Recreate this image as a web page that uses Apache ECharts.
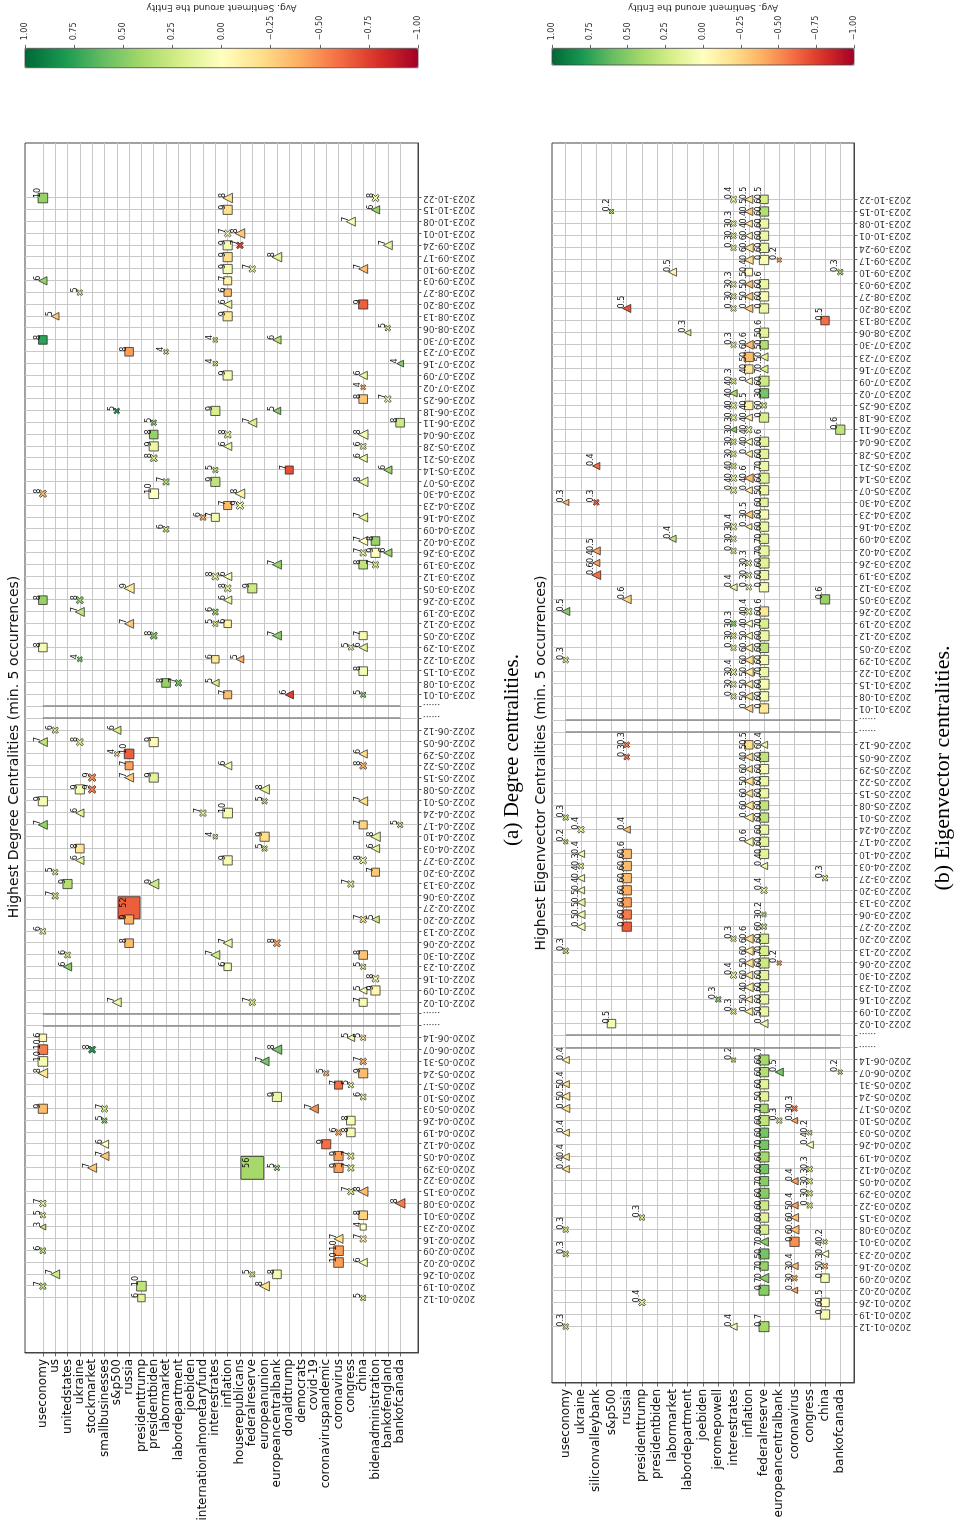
<!DOCTYPE html>
<html>
<head>
<meta charset="utf-8">
<script src="https://cdn.jsdelivr.net/npm/echarts@6/dist/echarts.min.js"></script>
<style>
  html, body { margin: 0; padding: 0; background: #fff; width: 960px; height: 1535px; overflow: hidden; }
  /* The figure is laid out landscape and turned a quarter turn counter-clockwise onto the page. */
  #chart { position: absolute; left: 0; top: 0; width: 1535px; height: 960px;
           transform-origin: 0 0; transform: translateY(1535px) rotate(-90deg); }
</style>
</head>
<body>
<div id="chart"></div>
<script>
// ---- tick labels -------------------------------------------------------
const weeks2020 = ['2020-01-12','2020-01-19','2020-01-26','2020-02-02','2020-02-09','2020-02-16','2020-02-23','2020-03-01','2020-03-08','2020-03-15','2020-03-22','2020-03-29','2020-04-05','2020-04-12','2020-04-19','2020-04-26','2020-05-03','2020-05-10','2020-05-17','2020-05-24','2020-05-31','2020-06-07','2020-06-14'];
const weeks2022 = ['2022-01-02','2022-01-09','2022-01-16','2022-01-23','2022-01-30','2022-02-06','2022-02-13','2022-02-20','2022-02-27','2022-03-06','2022-03-13','2022-03-20','2022-03-27','2022-04-03','2022-04-10','2022-04-17','2022-04-24','2022-05-01','2022-05-08','2022-05-15','2022-05-22','2022-05-29','2022-06-05','2022-06-12'];
const weeks2023 = ['2023-01-01','2023-01-08','2023-01-15','2023-01-22','2023-01-29','2023-02-05','2023-02-12','2023-02-19','2023-02-26','2023-03-05','2023-03-12','2023-03-19','2023-03-26','2023-04-02','2023-04-09','2023-04-16','2023-04-23','2023-04-30','2023-05-07','2023-05-14','2023-05-21','2023-05-28','2023-06-04','2023-06-11','2023-06-18','2023-06-25','2023-07-02','2023-07-09','2023-07-16','2023-07-23','2023-07-30','2023-08-06','2023-08-13','2023-08-20','2023-08-27','2023-09-03','2023-09-10','2023-09-17','2023-09-24','2023-10-01','2023-10-08','2023-10-15','2023-10-22'];
const GAP = '......';
const dateTicks = [...weeks2020, GAP, GAP, ...weeks2022, GAP, GAP, ...weeks2023];

const entitiesDegree = ['useconomy','us','unitedstates','ukraine','stockmarket','smallbusinesses','s&p500','russia','presidenttrump','presidentbiden','labormarket','labordepartment','joebiden','internationalmonetaryfund','interestrates','inflation','houserepublicans','federalreserve','europeanunion','europeancentralbank','donaldtrump','democrats','covid-19','coronaviruspandemic','coronavirus','congress','china','bidenadministration','bankofengland','bankofcanada'];
const entitiesEigen = ['useconomy','ukraine','siliconvalleybank','s&p500','russia','presidenttrump','presidentbiden','labormarket','labordepartment','joebiden','jeromepowell','interestrates','inflation','federalreserve','europeancentralbank','coronavirus','congress','china','bankofcanada'];

// ---- degree centralities: [week, entity, degree, avg. sentiment] -------
const degreeSquares = [
  ['2023-10-22','useconomy',10,0.45],['2023-10-15','inflation',9,-0.2],['2023-09-24','inflation',9,0.05],
  ['2023-09-17','inflation',9,-0.2],['2023-09-10','inflation',9,0.05],['2023-09-03','inflation',7,-0.1],
  ['2023-08-27','inflation',6,-0.35],['2023-08-20','china',9,-0.65],['2023-08-13','inflation',9,-0.15],
  ['2023-07-30','useconomy',8,0.75],['2023-07-23','russia',8,-0.45],['2023-07-09','inflation',9,0.05],
  ['2023-06-25','china',8,-0.3],['2023-06-18','interestrates',9,0.2],['2023-06-11','bankofcanada',8,0.25],
  ['2023-06-04','presidentbiden',8,0.45],['2023-05-28','presidentbiden',9,0.1],['2023-05-14','donaldtrump',7,-0.7],
  ['2023-05-07','interestrates',9,0.3],['2023-04-30','presidentbiden',10,0.0],['2023-04-23','inflation',7,-0.35],
  ['2023-04-16','interestrates',7,0.05],['2023-04-02','bidenadministration',8,0.45],['2023-03-26','bidenadministration',9,0.0],
  ['2023-03-19','china',8,0.3],['2023-03-05','federalreserve',9,0.25],['2023-02-26','useconomy',8,0.45],
  ['2023-02-12','inflation',6,-0.1],['2023-02-05','china',7,0.05],['2023-01-29','useconomy',8,0.05],
  ['2023-01-22','interestrates',6,-0.15],['2023-01-15','china',8,0.05],['2023-01-08','labormarket',8,0.45],
  ['2023-01-01','inflation',7,-0.35],
  ['2022-06-05','presidentbiden',9,-0.05],['2022-05-29','russia',10,-0.65],['2022-05-22','russia',7,-0.45],
  ['2022-05-15','presidentbiden',9,0.15],['2022-05-08','ukraine',9,0.05],['2022-05-01','useconomy',9,0.05],
  ['2022-04-24','inflation',10,0.05],['2022-04-17','china',7,-0.25],['2022-04-10','europeanunion',9,-0.2],
  ['2022-04-03','ukraine',8,-0.15],['2022-03-27','inflation',9,0.05],['2022-03-20','bidenadministration',7,-0.3],
  ['2022-03-13','unitedstates',9,0.35],['2022-02-27','russia',52,-0.65],['2022-02-20','russia',9,-0.4],
  ['2022-02-06','russia',8,-0.35],['2022-01-30','china',8,-0.3],['2022-01-23','inflation',6,0.05],
  ['2022-01-09','bidenadministration',9,-0.05],['2022-01-02','china',7,0.05],
  ['2020-06-14','useconomy',6,-0.05],['2020-06-07','useconomy',10,-0.55],['2020-05-31','useconomy',10,0.05],
  ['2020-05-24','china',9,-0.35],['2020-05-17','coronavirus',7,-0.6],['2020-05-10','europeancentralbank',9,0.1],
  ['2020-05-03','useconomy',9,-0.35],['2020-04-26','congress',8,0.05],['2020-04-19','congress',8,0.05],
  ['2020-04-12','coronaviruspandemic',9,-0.6],['2020-04-05','coronavirus',9,-0.45],['2020-03-29','coronavirus',9,-0.45],
  ['2020-03-29','federalreserve',56,0.4],['2020-03-01','china',8,-0.25],['2020-02-23','china',4,0.0],
  ['2020-02-09','coronavirus',10,-0.45],['2020-02-02','coronavirus',10,-0.45],['2020-01-26','europeancentralbank',8,0.05],
  ['2020-01-19','presidenttrump',10,0.3],['2020-01-12','presidenttrump',6,0.15]
];
const degreeTriangles = [
  ['2023-10-22','inflation',8,-0.2],['2023-10-15','bidenadministration',6,0.45],['2023-10-08','congress',7,0.05],
  ['2023-10-01','houserepublicans',8,-0.3],['2023-09-24','bankofengland',7,0.15],['2023-09-17','europeancentralbank',8,0.15],
  ['2023-09-10','china',7,-0.35],['2023-09-03','useconomy',6,0.45],['2023-08-20','inflation',6,0.1],
  ['2023-08-13','us',5,-0.3],['2023-07-30','europeancentralbank',6,0.35],['2023-07-16','bankofcanada',4,0.5],
  ['2023-07-09','china',6,0.1],['2023-06-18','europeancentralbank',5,0.5],['2023-06-11','federalreserve',7,0.2],
  ['2023-06-04','china',8,0.05],['2023-05-28','inflation',6,0.1],['2023-05-21','china',6,0.1],
  ['2023-05-14','bankofengland',6,0.45],['2023-05-07','china',8,0.1],['2023-04-30','houserepublicans',8,-0.1],
  ['2023-04-16','china',7,0.15],['2023-04-02','china',7,0.0],['2023-03-26','bankofengland',6,0.45],
  ['2023-03-19','europeancentralbank',7,0.45],['2023-03-12','inflation',6,0.05],['2023-03-05','russia',9,-0.15],
  ['2023-02-26','inflation',6,0.1],['2023-02-19','ukraine',7,0.3],['2023-02-12','russia',7,-0.3],
  ['2023-02-05','europeancentralbank',7,0.5],['2023-01-29','china',6,0.15],['2023-01-22','houserepublicans',5,-0.4],
  ['2023-01-08','interestrates',5,0.2],['2023-01-01','donaldtrump',6,-0.75],
  ['2022-06-12','s&p500',6,0.2],['2022-06-05','useconomy',7,0.3],['2022-05-29','china',6,-0.2],
  ['2022-05-22','inflation',6,0.05],['2022-05-15','russia',7,-0.3],['2022-05-08','europeanunion',8,0.15],
  ['2022-05-01','china',7,-0.2],['2022-04-24','ukraine',6,0.15],['2022-04-17','useconomy',7,0.45],
  ['2022-04-10','bidenadministration',8,0.15],['2022-04-03','bidenadministration',6,0.15],['2022-03-27','ukraine',6,0.15],
  ['2022-03-13','presidentbiden',9,0.25],['2022-02-20','bidenadministration',5,0.25],['2022-02-06','inflation',7,0.1],
  ['2022-01-30','interestrates',7,0.25],['2022-01-23','unitedstates',6,0.5],['2022-01-09','china',5,0.05],
  ['2022-01-02','s&p500',7,0.1],
  ['2020-06-14','congress',5,0.1],['2020-06-07','europeancentralbank',8,0.55],['2020-05-31','europeanunion',7,0.55],
  ['2020-05-24','useconomy',8,-0.15],['2020-05-03','covid-19',7,-0.5],['2020-04-12','smallbusinesses',6,0.0],
  ['2020-04-05','smallbusinesses',7,-0.3],['2020-03-29','stockmarket',7,-0.3],['2020-03-15','china',8,-0.35],
  ['2020-03-08','bankofcanada',8,-0.55],['2020-02-23','useconomy',3,0.3],['2020-02-16','coronavirus',7,-0.2],
  ['2020-02-02','china',6,0.05],['2020-01-26','us',7,0.25],['2020-01-19','europeanunion',8,-0.2]
];
const degreeCrosses = [
  ['2023-10-22','bidenadministration',8,0.1],['2023-10-01','inflation',7,0.05],['2023-09-24','houserepublicans',7,-0.75],
  ['2023-09-10','federalreserve',7,0.1],['2023-08-27','ukraine',5,0.2],['2023-08-06','bankofengland',5,0.25],
  ['2023-07-30','interestrates',4,0.2],['2023-07-23','labormarket',4,0.3],['2023-07-16','interestrates',4,0.2],
  ['2023-07-02','china',4,-0.4],['2023-06-25','bankofengland',7,0.1],['2023-06-18','s&p500',5,0.8],
  ['2023-06-11','presidentbiden',5,0.5],['2023-06-04','inflation',8,0.15],['2023-05-28','china',6,0.15],
  ['2023-05-21','presidentbiden',8,0.25],['2023-05-14','interestrates',5,0.3],['2023-05-07','labormarket',7,0.35],
  ['2023-04-30','useconomy',8,-0.35],['2023-04-23','houserepublicans',9,0.1],['2023-04-16','internationalmonetaryfund',6,-0.4],
  ['2023-04-09','labormarket',6,0.3],['2023-03-26','china',7,0.15],['2023-03-19','bidenadministration',7,0.2],
  ['2023-03-12','interestrates',8,0.15],['2023-03-05','inflation',8,0.15],['2023-02-26','ukraine',8,0.45],
  ['2023-02-19','interestrates',6,0.45],['2023-02-12','interestrates',5,0.2],['2023-02-05','presidentbiden',8,0.5],
  ['2023-01-29','congress',5,0.1],['2023-01-22','ukraine',4,0.5],['2023-01-08','labordepartment',7,0.55],
  ['2023-01-01','china',5,0.5],
  ['2022-06-12','us',6,0.2],['2022-06-05','ukraine',8,0.2],['2022-05-29','s&p500',4,-0.2],
  ['2022-05-22','china',8,-0.4],['2022-05-15','stockmarket',9,-0.5],['2022-05-08','stockmarket',9,-0.55],
  ['2022-05-01','europeanunion',5,0.3],['2022-04-24','internationalmonetaryfund',7,0.15],['2022-04-17','bankofcanada',5,0.3],
  ['2022-04-10','interestrates',4,0.2],['2022-04-03','europeanunion',5,0.3],['2022-03-27','china',8,0.1],
  ['2022-03-20','us',5,0.2],['2022-03-13','congress',7,0.2],['2022-03-06','us',7,0.3],
  ['2022-02-20','china',7,-0.2],['2022-02-13','useconomy',6,0.15],['2022-02-06','europeancentralbank',8,-0.45],
  ['2022-01-30','unitedstates',6,0.2],['2022-01-23','china',5,0.2],['2022-01-16','bidenadministration',8,0.1],
  ['2022-01-02','federalreserve',7,0.2],
  ['2020-06-14','china',5,-0.15],['2020-06-07','stockmarket',8,0.8],['2020-05-31','china',7,-0.4],
  ['2020-05-24','coronaviruspandemic',5,-0.35],['2020-05-17','congress',5,0.15],['2020-05-10','china',6,0.15],
  ['2020-05-03','smallbusinesses',7,0.2],['2020-04-26','smallbusinesses',5,0.5],['2020-04-19','coronavirus',6,-0.4],
  ['2020-04-05','congress',7,0.2],['2020-03-29','congress',7,0.2],['2020-03-29','europeancentralbank',5,0.5],
  ['2020-03-15','congress',7,0.2],['2020-03-08','useconomy',7,0.15],['2020-03-01','useconomy',5,0.2],
  ['2020-02-16','china',7,-0.1],['2020-02-09','useconomy',6,0.3],['2020-01-26','federalreserve',5,0.2],
  ['2020-01-19','useconomy',7,0.3],['2020-01-12','china',5,0.2]
];

// ---- eigenvector centralities: [week, entity, centrality, avg. sentiment]
const eigenSquares = [
  ['2023-10-22','federalreserve',0.5,0.2],['2023-10-15','federalreserve',0.6,0.35],['2023-10-08','federalreserve',0.6,0.1],
  ['2023-10-01','federalreserve',0.6,0.1],['2023-09-24','federalreserve',0.6,0.1],['2023-09-17','federalreserve',0.6,0.05],
  ['2023-09-10','inflation',0.4,0.0],['2023-09-03','federalreserve',0.6,0.1],['2023-08-27','federalreserve',0.6,0.05],
  ['2023-08-20','federalreserve',0.6,0.1],['2023-08-13','china',0.5,-0.6],['2023-08-06','federalreserve',0.6,0.15],
  ['2023-07-30','federalreserve',0.5,0.35],['2023-07-23','inflation',0.6,-0.35],['2023-07-16','inflation',0.5,-0.15],
  ['2023-07-09','federalreserve',0.7,0.25],['2023-07-02','federalreserve',0.6,0.55],['2023-06-25','inflation',0.5,-0.1],
  ['2023-06-18','federalreserve',0.6,0.2],['2023-06-11','bankofcanada',0.6,0.3],['2023-06-04','federalreserve',0.6,0.15],
  ['2023-05-28','federalreserve',0.6,0.15],['2023-05-21','federalreserve',0.6,0.1],['2023-05-14','federalreserve',0.7,0.15],
  ['2023-05-07','federalreserve',0.6,0.1],['2023-04-30','federalreserve',0.5,0.15],['2023-04-23','federalreserve',0.6,0.05],
  ['2023-04-16','federalreserve',0.6,0.1],['2023-04-09','federalreserve',0.6,0.15],['2023-04-02','federalreserve',0.7,0.1],
  ['2023-03-26','federalreserve',0.7,0.15],['2023-03-19','federalreserve',0.6,0.1],['2023-03-12','federalreserve',0.6,0.05],
  ['2023-03-05','china',0.6,0.45],['2023-02-26','federalreserve',0.6,-0.15],['2023-02-19','federalreserve',0.6,0.2],
  ['2023-02-12','federalreserve',0.7,0.1],['2023-02-05','federalreserve',0.6,0.3],['2023-01-29','federalreserve',0.6,0.05],
  ['2023-01-22','federalreserve',0.6,0.1],['2023-01-15','federalreserve',0.7,0.05],['2023-01-08','federalreserve',0.6,0.05],
  ['2023-01-01','federalreserve',0.6,-0.15],
  ['2022-06-12','inflation',0.5,-0.2],['2022-06-05','federalreserve',0.6,0.3],['2022-05-29','federalreserve',0.6,0.05],
  ['2022-05-22','federalreserve',0.6,0.1],['2022-05-15','federalreserve',0.6,0.1],['2022-05-08','federalreserve',0.6,0.3],
  ['2022-05-01','federalreserve',0.6,0.3],['2022-04-24','federalreserve',0.6,0.1],['2022-04-17','federalreserve',0.6,0.15],
  ['2022-04-10','russia',0.6,-0.35],['2022-04-10','federalreserve',0.6,0.15],['2022-04-03','russia',0.6,-0.35],
  ['2022-03-27','russia',0.6,-0.35],['2022-03-20','russia',0.6,-0.4],['2022-03-13','russia',0.6,-0.45],
  ['2022-03-06','russia',0.6,-0.55],['2022-02-27','russia',0.6,-0.65],['2022-02-20','federalreserve',0.6,0.2],
  ['2022-02-13','federalreserve',0.6,0.2],['2022-02-06','federalreserve',0.7,0.25],['2022-01-30','federalreserve',0.6,0.15],
  ['2022-01-23','federalreserve',0.6,0.15],['2022-01-16','federalreserve',0.6,0.1],['2022-01-09','federalreserve',0.6,0.1],
  ['2022-01-02','s&p500',0.5,0.05],
  ['2020-06-14','federalreserve',0.7,0.4],['2020-06-07','federalreserve',0.6,0.35],['2020-05-31','federalreserve',0.6,0.15],
  ['2020-05-24','federalreserve',0.6,0.15],['2020-05-17','federalreserve',0.5,0.4],['2020-05-10','federalreserve',0.7,0.3],
  ['2020-05-03','federalreserve',0.6,0.55],['2020-04-26','federalreserve',0.6,0.55],['2020-04-19','federalreserve',0.7,0.4],
  ['2020-04-12','federalreserve',0.6,0.55],['2020-04-05','federalreserve',0.6,0.5],['2020-03-29','federalreserve',0.7,0.5],
  ['2020-03-22','federalreserve',0.6,0.25],['2020-03-15','federalreserve',0.6,0.15],['2020-03-08','federalreserve',0.6,0.2],
  ['2020-03-01','coronavirus',0.6,-0.5],['2020-02-23','federalreserve',0.7,0.55],['2020-02-16','federalreserve',0.5,0.45],
  ['2020-02-09','china',0.5,0.05],['2020-02-02','federalreserve',0.7,0.5],['2020-01-26','china',0.5,0.0],
  ['2020-01-19','china',0.6,0.05],['2020-01-12','federalreserve',0.7,0.4]
];
const eigenTriangles = [
  ['2023-10-22','inflation',0.5,-0.2],['2023-10-15','inflation',0.5,-0.3],['2023-10-08','inflation',0.4,-0.15],
  ['2023-10-01','inflation',0.4,-0.1],['2023-09-24','inflation',0.6,-0.15],['2023-09-17','inflation',0.6,-0.2],
  ['2023-09-10','labormarket',0.5,-0.1],['2023-09-03','inflation',0.5,-0.35],['2023-08-27','inflation',0.5,-0.3],
  ['2023-08-20','russia',0.5,-0.7],['2023-08-20','inflation',0.5,-0.3],['2023-08-06','labordepartment',0.3,0.2],
  ['2023-07-30','inflation',0.6,-0.35],['2023-07-23','federalreserve',0.5,0.15],['2023-07-16','federalreserve',0.5,0.2],
  ['2023-07-09','inflation',0.4,-0.05],['2023-07-02','interestrates',0.4,0.4],['2023-06-18','inflation',0.4,-0.1],
  ['2023-06-11','interestrates',0.3,0.5],['2023-06-04','inflation',0.4,-0.05],['2023-05-28','inflation',0.4,-0.1],
  ['2023-05-21','siliconvalleybank',0.4,-0.6],['2023-05-14','inflation',0.6,-0.35],['2023-05-07','inflation',0.4,-0.1],
  ['2023-04-30','useconomy',0.3,-0.35],['2023-04-23','inflation',0.5,-0.3],['2023-04-16','inflation',0.3,-0.1],
  ['2023-04-09','labormarket',0.4,0.3],['2023-04-02','siliconvalleybank',0.5,-0.45],['2023-03-26','siliconvalleybank',0.4,-0.45],
  ['2023-03-19','siliconvalleybank',0.6,-0.6],['2023-03-12','interestrates',0.4,0.1],['2023-03-05','russia',0.6,-0.25],
  ['2023-02-26','useconomy',0.5,0.5],['2023-02-19','inflation',0.4,0.0],['2023-02-12','inflation',0.4,-0.05],
  ['2023-02-05','inflation',0.5,-0.1],['2023-01-29','inflation',0.6,-0.2],['2023-01-22','inflation',0.6,-0.15],
  ['2023-01-15','inflation',0.5,-0.15],['2023-01-08','inflation',0.5,-0.2],['2023-01-01','inflation',0.5,-0.25],
  ['2022-06-12','federalreserve',0.4,0.1],['2022-06-05','inflation',0.5,-0.2],['2022-05-29','inflation',0.4,-0.15],
  ['2022-05-22','inflation',0.6,-0.2],['2022-05-15','inflation',0.5,-0.2],['2022-05-08','inflation',0.6,-0.15],
  ['2022-05-01','inflation',0.6,-0.1],['2022-04-24','russia',0.4,-0.35],['2022-04-17','inflation',0.6,-0.05],
  ['2022-04-10','ukraine',0.4,0.1],['2022-04-03','federalreserve',0.4,0.1],['2022-03-27','ukraine',0.4,0.05],
  ['2022-03-20','ukraine',0.4,0.1],['2022-03-13','ukraine',0.5,0.15],['2022-03-06','ukraine',0.5,0.1],
  ['2022-02-27','ukraine',0.5,0.05],['2022-02-20','inflation',0.6,-0.2],['2022-02-13','inflation',0.6,-0.15],
  ['2022-02-06','inflation',0.6,-0.2],['2022-01-30','inflation',0.5,-0.15],['2022-01-23','inflation',0.6,-0.1],
  ['2022-01-16','inflation',0.4,-0.1],['2022-01-09','inflation',0.5,-0.15],['2022-01-02','federalreserve',0.5,0.1],
  ['2020-06-14','useconomy',0.4,-0.1],['2020-06-07','europeancentralbank',0.5,0.55],['2020-05-31','useconomy',0.4,-0.2],
  ['2020-05-24','useconomy',0.5,-0.15],['2020-05-17','useconomy',0.5,-0.2],['2020-05-10','coronavirus',0.3,-0.45],
  ['2020-05-03','useconomy',0.4,-0.15],['2020-04-26','congress',0.4,0.05],['2020-04-19','useconomy',0.4,-0.15],
  ['2020-04-12','useconomy',0.4,-0.2],['2020-04-05','coronavirus',0.4,-0.45],['2020-03-22','coronavirus',0.4,-0.45],
  ['2020-03-15','coronavirus',0.5,-0.35],['2020-03-08','coronavirus',0.6,-0.35],['2020-03-01','federalreserve',0.6,0.5],
  ['2020-02-23','china',0.4,0.0],['2020-02-16','coronavirus',0.4,-0.35],['2020-02-09','federalreserve',0.7,0.5],
  ['2020-02-02','coronavirus',0.3,-0.45],['2020-01-12','interestrates',0.4,0.05]
];
const eigenCrosses = [
  ['2023-10-22','interestrates',0.4,0.1],['2023-10-15','s&p500',0.2,0.3],['2023-10-08','interestrates',0.3,0.1],
  ['2023-10-01','interestrates',0.3,0.15],['2023-09-24','interestrates',0.3,0.1],['2023-09-17','europeancentralbank',0.2,-0.4],
  ['2023-09-10','bankofcanada',0.3,0.4],['2023-09-03','interestrates',0.3,0.1],['2023-08-27','interestrates',0.3,0.15],
  ['2023-08-20','interestrates',0.3,0.1],['2023-07-30','interestrates',0.3,0.1],['2023-07-09','interestrates',0.3,0.15],
  ['2023-06-25','interestrates',0.4,0.1],['2023-06-25','federalreserve',0.3,0.2],['2023-06-18','interestrates',0.4,0.1],
  ['2023-06-11','inflation',0.4,0.1],['2023-06-04','interestrates',0.3,0.15],['2023-05-28','interestrates',0.3,0.1],
  ['2023-05-21','interestrates',0.3,0.15],['2023-05-14','interestrates',0.4,0.1],['2023-05-07','interestrates',0.4,0.15],
  ['2023-04-30','siliconvalleybank',0.3,-0.65],['2023-04-16','interestrates',0.4,0.1],['2023-04-09','interestrates',0.3,0.1],
  ['2023-04-02','interestrates',0.3,0.15],['2023-03-26','inflation',0.3,0.1],['2023-03-19','inflation',0.3,0.15],
  ['2023-03-12','inflation',0.3,0.1],['2023-02-26','inflation',0.4,0.15],['2023-02-19','interestrates',0.3,0.45],
  ['2023-02-12','interestrates',0.3,0.15],['2023-02-05','interestrates',0.3,0.1],['2023-01-29','useconomy',0.3,0.2],
  ['2023-01-22','interestrates',0.4,0.15],['2023-01-15','interestrates',0.3,0.1],['2023-01-08','interestrates',0.3,0.15],
  ['2022-06-12','russia',0.3,-0.55],['2022-06-05','russia',0.3,-0.6],['2022-05-01','useconomy',0.3,0.25],
  ['2022-04-24','ukraine',0.4,0.15],['2022-04-17','useconomy',0.2,0.3],['2022-04-03','ukraine',0.3,0.15],
  ['2022-03-27','china',0.3,0.2],['2022-03-20','federalreserve',0.4,0.15],['2022-03-06','federalreserve',0.2,0.3],
  ['2022-02-27','federalreserve',0.3,0.25],['2022-02-20','interestrates',0.3,0.15],['2022-02-13','useconomy',0.3,0.3],
  ['2022-02-06','europeancentralbank',0.2,-0.45],['2022-01-30','interestrates',0.4,0.1],['2022-01-16','jeromepowell',0.3,0.5],
  ['2022-01-09','interestrates',0.3,0.15],
  ['2020-06-14','interestrates',0.2,0.25],['2020-06-07','bankofcanada',0.2,0.3],['2020-05-17','coronavirus',0.3,-0.55],
  ['2020-05-10','europeancentralbank',0.3,0.2],['2020-05-03','congress',0.2,0.2],['2020-04-12','congress',0.3,0.2],
  ['2020-04-05','congress',0.3,0.15],['2020-03-29','congress',0.3,0.2],['2020-03-22','congress',0.3,0.2],
  ['2020-03-15','presidenttrump',0.3,0.2],['2020-03-08','useconomy',0.3,0.2],['2020-03-01','china',0.2,0.2],
  ['2020-02-23','useconomy',0.3,0.3],['2020-02-16','china',0.3,-0.35],['2020-02-09','coronavirus',0.3,-0.4],
  ['2020-01-26','presidenttrump',0.4,0.15],['2020-01-12','useconomy',0.3,0.25]
];

// ---- drawing -----------------------------------------------------------
const FONT = 'DejaVu Sans';
const RDYLGN = ['#a50026','#d73027','#f46d43','#fdae61','#fee08b','#ffffbf','#d9ef8b','#a6d96a','#66bd63','#1a9850','#006837'];
const CROSS = 'path://M0,2L2,0L5,3L8,0L10,2L7,5L10,8L8,10L5,7L2,10L0,8L3,5Z';
const FRAME = '#444';

const tickIdx = dateTicks.map((_, i) => i);
const gapIdx = tickIdx.filter(i => dateTicks[i] === GAP);
const datePad = (dateTicks.length - 1) * 0.05;

function toPoints(rows, names) {
  return rows.map(r => [dateTicks.indexOf(r[0]), names.indexOf(r[1]), r[2], r[3]]);
}

function dateAxis(gridIndex) {
  return {
    type: 'value', gridIndex, min: -datePad, max: dateTicks.length - 1 + datePad,
    axisLine: { show: true, onZero: false, lineStyle: { color: FRAME, width: 1 } },
    axisTick: { show: true, customValues: tickIdx, length: 3.5, lineStyle: { color: FRAME, width: 0.8 } },
    axisLabel: { customValues: tickIdx, rotate: 90, fontSize: 9, color: '#333', margin: 5,
                 fontFamily: FONT, formatter: v => dateTicks[v] },
    splitLine: { show: true, lineStyle: { color: '#c8c8c8', width: 1 } }
  };
}

function entityAxis(gridIndex, names) {
  const idx = names.map((_, i) => i);
  const pad = (names.length - 1) * 0.05;
  return {
    type: 'value', gridIndex, inverse: true, min: -pad, max: names.length - 1 + pad,
    axisLine: { show: true, onZero: false, lineStyle: { color: FRAME, width: 1 } },
    axisTick: { show: true, customValues: idx, length: 3.5, lineStyle: { color: FRAME, width: 0.8 } },
    axisLabel: { customValues: idx, fontSize: 12, color: '#111', margin: 6, fontFamily: FONT,
                 formatter: v => names[v] },
    splitLine: { show: true, lineStyle: { color: '#c8c8c8', width: 1 } }
  };
}

function colorbarAxis(gridIndex) {
  return {
    type: 'value', gridIndex, min: -1, max: 1, interval: 0.25, position: 'right',
    axisLine: { show: false, onZero: false },
    axisTick: { show: true, length: 3.5, lineStyle: { color: FRAME, width: 0.8 } },
    axisLabel: { fontSize: 8, color: '#333', margin: 8, fontFamily: FONT,
                 formatter: v => (v < 0 ? '\u2212' : '') + Math.abs(v).toFixed(2) },
    splitLine: { show: false },
    name: 'Avg. Sentiment around the Entity', nameLocation: 'middle', nameRotate: 90, nameGap: 36,
    nameTextStyle: { fontSize: 9, color: '#333', fontFamily: FONT }
  };
}

function marks(rows, names, panel, symbol, scale, digits, extra) {
  return Object.assign({
    type: 'scatter', xAxisIndex: panel, yAxisIndex: panel,
    data: toPoints(rows, names),
    symbol,
    symbolSize: v => scale * Math.sqrt(v[2]),
    itemStyle: { borderColor: '#1a1a1a', borderWidth: 0.7, opacity: 1 },
    label: { show: true, position: ['50%', '50%'], align: 'left', verticalAlign: 'bottom', offset: [0, -1],
             fontSize: 8, color: '#111', fontFamily: FONT, formatter: p => p.value[2].toFixed(digits) },
    emphasis: { disabled: true },
    silent: true,
    z: 3
  }, extra || {});
}

function gapLines(names) {
  return {
    silent: true, symbol: ['none', 'none'], label: { show: false }, animation: false,
    lineStyle: { color: '#8a8a8a', width: 1.5, type: 'solid' },
    data: gapIdx.map(c => [{ coord: [c, 0] }, { coord: [c, names.length - 1] }])
  };
}

const chart = echarts.init(document.getElementById('chart'), null, { renderer: 'canvas' });
chart.setOption({
  animation: false,
  backgroundColor: '#fff',
  textStyle: { fontFamily: FONT },
  title: [
    { text: 'Highest Degree Centralities (min. 5 occurrences)', left: 788, top: 7, textAlign: 'center', padding: 0,
      textStyle: { fontSize: 14, fontWeight: 'normal', color: '#111', fontFamily: FONT } },
    { text: 'Highest Eigenvector Centralities (min. 5 occurrences)', left: 772, top: 534, textAlign: 'center', padding: 0,
      textStyle: { fontSize: 14, fontWeight: 'normal', color: '#111', fontFamily: FONT } }
  ],
  grid: [
    { left: 182, top: 25, width: 1210, height: 393, show: true, borderColor: FRAME, borderWidth: 1, outerBoundsMode: 'none' },
    { left: 152, top: 552, width: 1240, height: 302, show: true, borderColor: FRAME, borderWidth: 1, outerBoundsMode: 'none' },
    { left: 1467.3, top: 25, width: 19.4, height: 393, show: true, borderColor: FRAME, borderWidth: 0.8, z: 10, outerBoundsMode: 'none' },
    { left: 1470, top: 552, width: 16.7, height: 302, show: true, borderColor: FRAME, borderWidth: 0.8, z: 10, outerBoundsMode: 'none' }
  ],
  xAxis: [
    dateAxis(0), dateAxis(1),
    { type: 'value', gridIndex: 2, show: false, min: 0, max: 1 },
    { type: 'value', gridIndex: 3, show: false, min: 0, max: 1 }
  ],
  yAxis: [ entityAxis(0, entitiesDegree), entityAxis(1, entitiesEigen), colorbarAxis(2), colorbarAxis(3) ],
  visualMap: [
    { type: 'continuous', seriesIndex: [0, 1, 2], dimension: 3, min: -1, max: 1, inRange: { color: RDYLGN },
      orient: 'vertical', left: 1467.3, top: 25, itemWidth: 19.4, itemHeight: 393, padding: 0,
      calculable: false, hoverLink: false, realtime: false },
    { type: 'continuous', seriesIndex: [3, 4, 5], dimension: 3, min: -1, max: 1, inRange: { color: RDYLGN },
      orient: 'vertical', left: 1470, top: 552, itemWidth: 16.7, itemHeight: 302, padding: 0,
      calculable: false, hoverLink: false, realtime: false }
  ],
  series: [
    marks(degreeSquares, entitiesDegree, 0, 'rect', 3.05, 0, { markLine: gapLines(entitiesDegree) }),
    marks(degreeTriangles, entitiesDegree, 0, 'triangle', 3.4, 0),
    marks(degreeCrosses, entitiesDegree, 0, CROSS, 2.6, 0),
    marks(eigenSquares, entitiesEigen, 1, 'rect', 12, 1, { markLine: gapLines(entitiesEigen) }),
    marks(eigenTriangles, entitiesEigen, 1, 'triangle', 11.5, 1),
    marks(eigenCrosses, entitiesEigen, 1, CROSS, 11, 1)
  ],
  graphic: [
    { type: 'text', x: 785, y: 512, silent: true,
      style: { text: '(a) Degree centralities.', fontSize: 21, fontFamily: 'Liberation Serif', fill: '#000',
               align: 'center', verticalAlign: 'middle', textAlign: 'center', textVerticalAlign: 'middle' } },
    { type: 'text', x: 767, y: 943, silent: true,
      style: { text: '(b) Eigenvector centralities.', fontSize: 22, fontFamily: 'Liberation Serif', fill: '#000',
               align: 'center', verticalAlign: 'middle', textAlign: 'center', textVerticalAlign: 'middle' } }
  ]
});
</script>
</body>
</html>
